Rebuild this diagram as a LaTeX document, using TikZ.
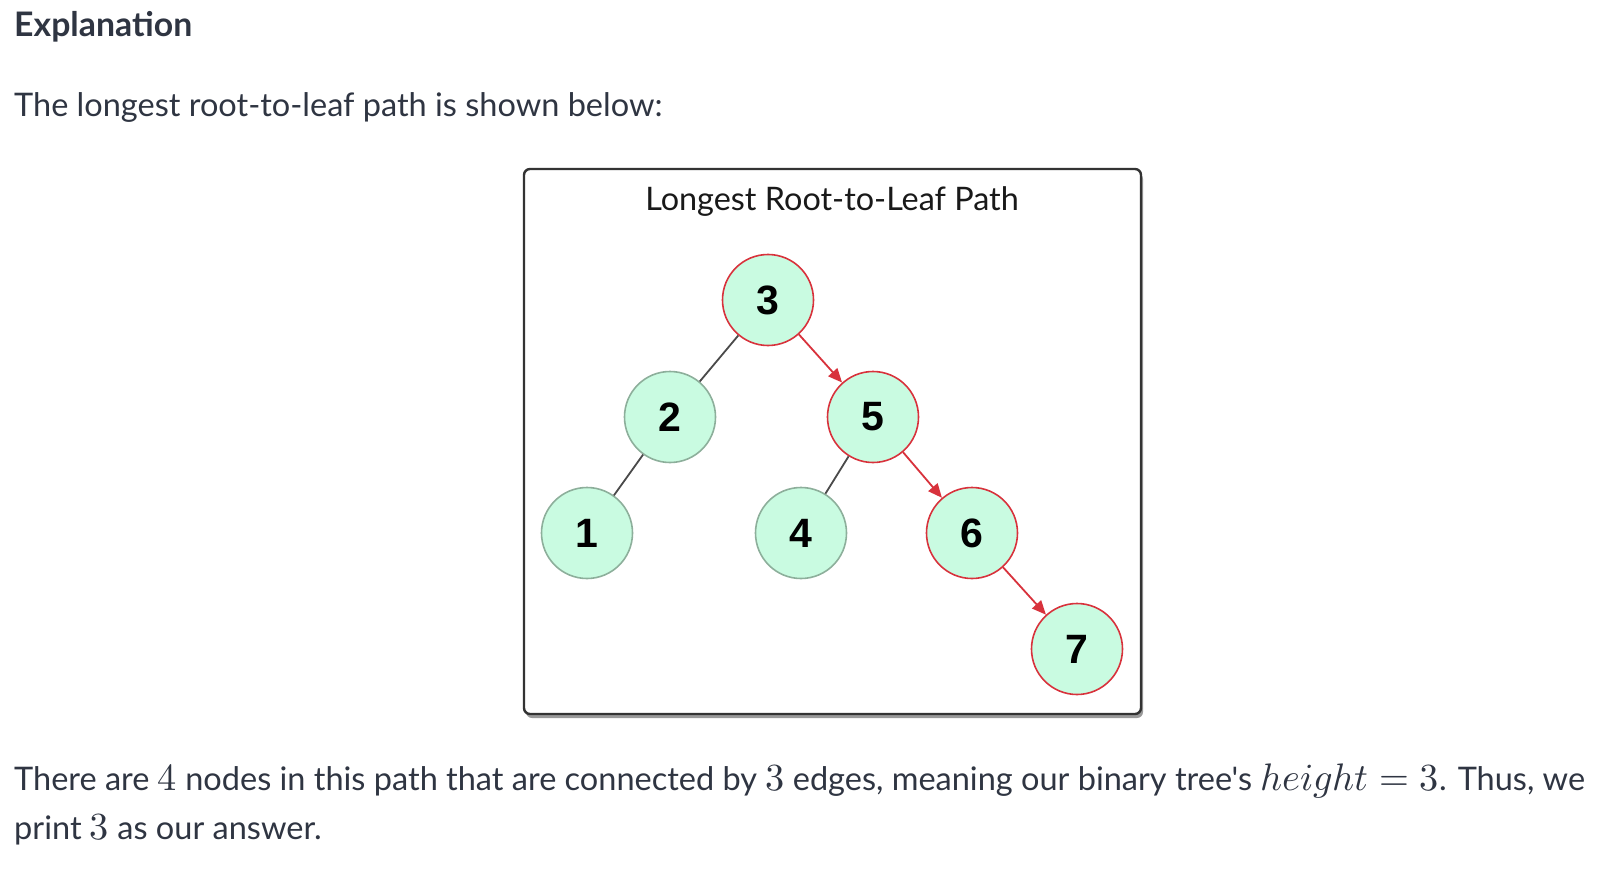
\documentclass[tikz,border=0pt]{standalone}
\usepackage{unicode-math}
\setmainfont{Lato}[Ligatures=TeXOff]
\setmathfont{Latin Modern Math}[Scale=1.18]
\newfontfamily\numfont{Liberation Sans}
\usetikzlibrary{arrows.meta}
\definecolor{txt}{HTML}{2F3542}
\definecolor{mint}{HTML}{C9FBE1}
\definecolor{pathred}{HTML}{D8323C}
\definecolor{plainbd}{HTML}{8DAF9B}
\definecolor{edgegray}{HTML}{4A4A4A}
\tikzset{
  treenode/.style={circle, minimum size=91pt, inner sep=0pt, fill=mint, line width=1.6pt,
    font=\numfont\bfseries\fontsize{41}{41}\selectfont, text=black},
  onpath/.style={treenode, draw=pathred},
  offpath/.style={treenode, draw=plainbd},
  plainedge/.style={draw=edgegray, line width=1.8pt},
  pathedge/.style={draw=pathred, line width=1.8pt, -{Triangle[length=14pt,width=12pt]}},
  bodytext/.style={anchor=base west, inner sep=0pt, text=txt, font=\fontsize{32.5}{32.5}\selectfont},
}
\begin{document}
\begin{tikzpicture}[x=1pt,y=-1pt]
\useasboundingbox (0,0) rectangle (1618,872);
\node[anchor=base west, inner sep=0pt, text=txt, font=\bfseries\fontsize{33.8}{33.8}\selectfont] (expl) at (14,37) {Explanation};
\node[bodytext] (intro) at (14,117) {The longest root-to-leaf path is shown below:};
% box
\fill[black!40, rounded corners=6pt] (526,173) rectangle (1143,718);
\draw[line width=2.4pt, draw=black!80, fill=white, rounded corners=6pt] (524,169) rectangle (1141,714);
\node[anchor=base, inner sep=0pt, text=black!90, font=\fontsize{32.4}{32.4}\selectfont] (title) at (832,211) {Longest Root-to-Leaf Path};
% nodes
\node[onpath] (n3) at (768,300) {3};
\node[offpath] (n2) at (670,417) {2};
\node[onpath] (n5) at (873,417) {5};
\node[offpath] (n1) at (587,533) {1};
\node[offpath] (n4) at (801,533) {4};
\node[onpath] (n6) at (972,533) {6};
\node[onpath] (n7) at (1077,649) {7};
% edges
\draw[plainedge] (n3) -- (n2);
\draw[plainedge] (n2) -- (n1);
\draw[plainedge] (n5) -- (n4);
\draw[pathedge] (n3) -- (n5);
\draw[pathedge] (n5) -- (n6);
\draw[pathedge] (n6) -- (n7);
% bottom text
\node[bodytext] (line1) at (14,790) {There are $4$ nodes in this path that are connected by $3$ edges, meaning our binary tree's $height = 3$. Thus, we};
\node[bodytext] (line2) at (14,839) {print $3$ as our answer.};
\end{tikzpicture}
\end{document}
